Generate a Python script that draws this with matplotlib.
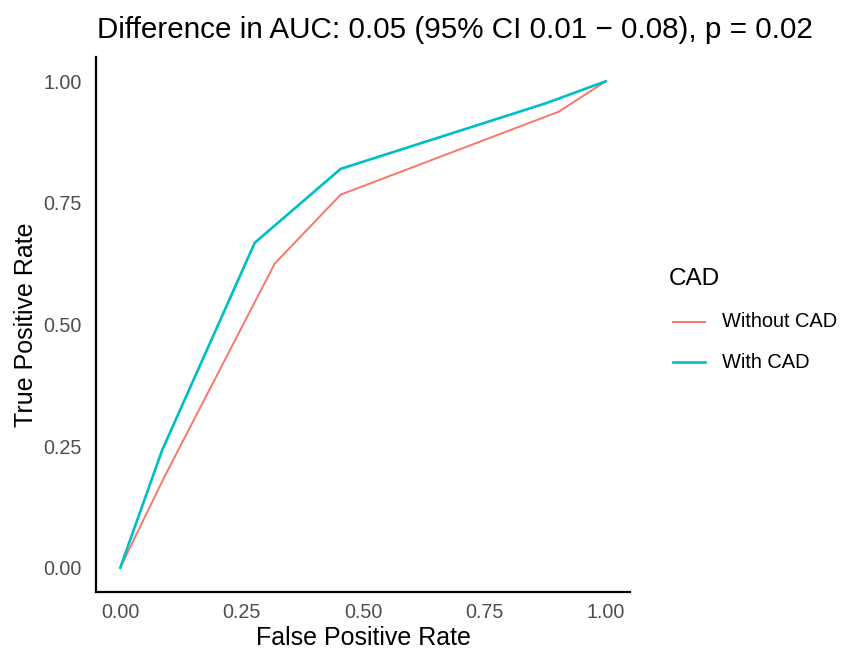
import matplotlib
matplotlib.use("Agg")
import matplotlib.pyplot as plt
from matplotlib.lines import Line2D

plt.rcParams['font.family'] = ['Liberation Sans', 'DejaVu Sans']

title = "Difference in AUC: 0.05 (95% CI 0.01 \u2212 0.08), p = 0.02"
legend_title = "CAD"
series_names = ["Without CAD", "With CAD"]
fpr_without = [0.0, 0.09, 0.318, 0.454, 0.903, 1.0]
tpr_without = [0.0, 0.185, 0.625, 0.767, 0.9375, 1.0]
fpr_with = [0.0, 0.086, 0.277, 0.454, 0.877, 1.0]
tpr_with = [0.0, 0.241, 0.668, 0.820, 0.955, 1.0]
ticks = [0.0, 0.25, 0.5, 0.75, 1.0]
tick_labels = ["0.00", "0.25", "0.50", "0.75", "1.00"]

colors = ["#F8766D", "#00BFC4"]
widths = [1.4, 1.9]

W, H = 843, 650
fig = plt.figure(figsize=(W / 100, H / 100), dpi=100)
ax = fig.add_axes([96 / W, 1 - 592 / H, (630 - 96) / W, (592 - 57) / H])

ax.plot(fpr_without, tpr_without, color=colors[0], lw=widths[0], solid_joinstyle='round')
ax.plot(fpr_with, tpr_with, color=colors[1], lw=widths[1], solid_joinstyle='round')

ax.set_xlim(-0.05, 1.05)
ax.set_ylim(-0.05, 1.05)
ax.set_xticks(ticks)
ax.set_xticklabels(tick_labels)
ax.set_yticks(ticks)
ax.set_yticklabels(tick_labels)
ax.tick_params(length=0, labelsize=14.2, labelcolor="#4D4D4D")
ax.tick_params(axis="x", pad=8)
ax.tick_params(axis="y", pad=10)
for s in ["top", "right"]:
    ax.spines[s].set_visible(False)
for s in ["left", "bottom"]:
    ax.spines[s].set_linewidth(1.6)
    ax.spines[s].set_color("black")

ax.set_xlabel("False Positive Rate", fontsize=18, labelpad=3)
ax.set_ylabel("True Positive Rate", fontsize=18, labelpad=4)

fig.text(455 / W, 1 - 30 / H, title, fontsize=21.3, ha="center", va="center")

# legend, drawn by hand to match the reference placement
fig.text(669 / W, 1 - 279 / H, legend_title, fontsize=17.5, ha="left", va="center")
for i, (name, c, lw) in enumerate(zip(series_names, colors, widths)):
    y = 1 - (322 + 40 * i) / H
    fig.add_artist(Line2D([673 / W, 705 / W], [y, y], color=c, lw=lw,
                          transform=fig.transFigure))
    fig.text(722 / W, y, name, fontsize=14.4, ha="left", va="center")

fig.savefig("out.png", dpi=100)
